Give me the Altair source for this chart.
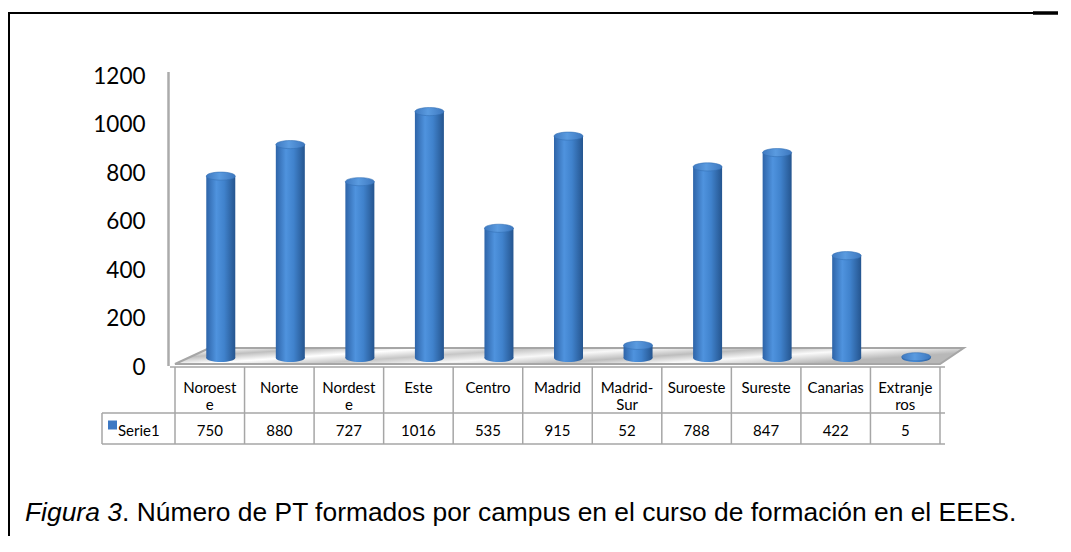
import altair as alt
import pandas as pd

# ---------------- data ----------------
categories = ["Noroeste", "Norte", "Nordeste", "Este", "Centro", "Madrid",
              "Madrid-Sur", "Suroeste", "Sureste", "Canarias", "Extranjeros"]
header_labels = ["Noroest\ne", "Norte", "Nordest\ne", "Este", "Centro", "Madrid",
                 "Madrid-\nSur", "Suroeste", "Sureste", "Canarias", "Extranje\nros"]
values = [750, 880, 727, 1016, 535, 915, 52, 788, 847, 422, 5]
y_ticks = [0, 200, 400, 600, 800, 1000, 1200]
series_name = "Serie1"
caption_italic = "Figura 3"
caption_rest = ". Número de PT formados por campus en el curso de formación en el EEES."

df = pd.DataFrame({
    "i": list(range(len(categories))),
    "cat": categories,
    "label": header_labels,
    "v": values,
    "vtxt": [str(v) for v in values],
})

# ---------------- layout ----------------
W, H = 775, 291                 # plot area
PL, PT = 162, 59                # padding left / top
TOTAL_W, TOTAL_H = 1050, 528
Y_MAX = 1200
N = len(categories)
px_per_unit = H / Y_MAX
col_w = W / N

GRID = "#A6A6A6"

x_enc = alt.X("i:Q", scale=alt.Scale(domain=[-0.5, N - 0.5], nice=False, zero=False), axis=None)
y_enc = alt.Y("v:Q", scale=alt.Scale(domain=[0, Y_MAX], nice=False, zero=False),
              axis=alt.Axis(values=y_ticks, format="d", title=None, labelFont="Lato",
                            labelFontSize=22.5, labelColor="black", ticks=False, domain=False,
                            grid=False, labelPadding=25, labelOffset=9))

body_grad = alt.Gradient(gradient="linear", x1=0, x2=1, y1=0, y2=0, stops=[
    alt.GradientStop(color="#2E64A8", offset=0),
    alt.GradientStop(color="#4F93DE", offset=0.35),
    alt.GradientStop(color="#4082CC", offset=0.62),
    alt.GradientStop(color="#25558F", offset=1),
])
top_grad = alt.Gradient(gradient="linear", x1=0, x2=1, y1=0, y2=0, stops=[
    alt.GradientStop(color="#3F79C0", offset=0),
    alt.GradientStop(color="#5A9BE0", offset=0.45),
    alt.GradientStop(color="#3D77BE", offset=1),
])
floor_grad = alt.Gradient(gradient="linear", x1=0, x2=1, y1=0, y2=0.3, stops=[
    alt.GradientStop(color="#B8B8B8", offset=0),
    alt.GradientStop(color="#F4F4F4", offset=0.07),
    alt.GradientStop(color="#BFBFBF", offset=0.17),
    alt.GradientStop(color="#FFFFFF", offset=0.3),
    alt.GradientStop(color="#C6C6C6", offset=0.43),
    alt.GradientStop(color="#F8F8F8", offset=0.56),
    alt.GradientStop(color="#BDBDBD", offset=0.7),
    alt.GradientStop(color="#FAFAFA", offset=0.83),
    alt.GradientStop(color="#B8B8B8", offset=1),
])

CYL_W = 29
CYL_DX = 11
ELLIPSE = "M-1,0A1,0.28,0,1,0,1,0A1,0.28,0,1,0,-1,0Z"

# floor (3-D base plate) derived from the category scale and depth
front_px, back_px = 6, -10          # relative to value 0 baseline
floor_df = pd.DataFrame({
    "v": [-front_px / px_per_unit, -back_px / px_per_unit],
    "i": [-0.5, -0.5 + 35 / col_w],
    "i2": [N - 0.5, N - 0.5 + 24 / col_w],
})
floor = alt.Chart(floor_df).mark_area(orient="horizontal", fill=floor_grad,
                                      stroke=GRID, strokeWidth=2).encode(
    y=y_enc, x=x_enc, x2="i2:Q")

one = pd.DataFrame({"a": [0]})

axis_line = alt.Chart(one).mark_rule(color="#ABABAB", strokeWidth=2.5).encode(
    x=alt.value(-1.5), y=alt.value(5), y2=alt.value(299))

bottom_ell = alt.Chart(df).mark_point(shape=ELLIPSE, size=CYL_W ** 2, filled=True,
                                      fill=body_grad, opacity=1, strokeWidth=0,
                                      xOffset=CYL_DX).encode(x=x_enc, y=alt.datum(0))
body = alt.Chart(df).mark_bar(size=CYL_W, fill=body_grad, xOffset=CYL_DX).encode(
    x=x_enc, y=y_enc, y2=alt.datum(0))
top_ell = alt.Chart(df).mark_point(shape=ELLIPSE, size=CYL_W ** 2, filled=True,
                                   fill=top_grad, opacity=1, stroke="#3470B5",
                                   strokeWidth=0.6, xOffset=CYL_DX).encode(x=x_enc, y=y_enc)

# ---------------- data table ----------------
T_TOP, T_MID, T_BOT = 300, 346, 377
LEG_LEFT = -68
bounds_df = pd.DataFrame({"i": [k - 0.5 for k in range(N + 1)]})
vlines = alt.Chart(bounds_df).mark_rule(color=GRID, strokeWidth=1.5).encode(
    x=x_enc, y=alt.value(T_TOP), y2=alt.value(T_BOT))
leg_vline = alt.Chart(one).mark_rule(color=GRID, strokeWidth=1.5).encode(
    x=alt.value(LEG_LEFT), y=alt.value(T_MID), y2=alt.value(T_BOT))
hline_top = alt.Chart(one).mark_rule(color=GRID, strokeWidth=1.5).encode(
    x=alt.value(0), x2=alt.value(W), y=alt.value(T_TOP))
hline_mid = alt.Chart(one).mark_rule(color=GRID, strokeWidth=1.5).encode(
    x=alt.value(LEG_LEFT), x2=alt.value(W), y=alt.value(T_MID))
hline_bot = alt.Chart(one).mark_rule(color=GRID, strokeWidth=1.5).encode(
    x=alt.value(LEG_LEFT), x2=alt.value(W), y=alt.value(T_BOT))

header_txt = alt.Chart(df).mark_text(font="Lato", fontSize=15, lineBreak="\n", lineHeight=17,
                                     baseline="alphabetic", color="black").encode(
    x=x_enc, y=alt.value(326), text="label:N")
value_txt = alt.Chart(df).mark_text(font="Lato", fontSize=15, baseline="alphabetic",
                                    color="black").encode(
    x=x_enc, y=alt.value(369), text="vtxt:N")
leg_sq = alt.Chart(one).mark_point(shape="square", size=81, filled=True, opacity=1,
                                   color="#3C78C3").encode(x=alt.value(-57.5), y=alt.value(358))
leg_txt = alt.Chart(pd.DataFrame({"s": [series_name]})).mark_text(
    font="Lato", fontSize=15, baseline="alphabetic", align="left", color="black").encode(
    x=alt.value(-52), y=alt.value(369), text="s:N")

# ---------------- caption & frame ----------------
cap1 = alt.Chart(pd.DataFrame({"s": [caption_italic]})).mark_text(
    font="Liberation Sans", fontSize=26.4, fontStyle="italic", align="left",
    baseline="alphabetic", color="black").encode(x=alt.value(-145), y=alt.value(454), text="s:N")
cap2 = alt.Chart(pd.DataFrame({"s": [caption_rest]})).mark_text(
    font="Liberation Sans", fontSize=26.4, align="left",
    baseline="alphabetic", color="black").encode(x=alt.value(-48), y=alt.value(454), text="s:N")

frame_top = alt.Chart(one).mark_rule(color="black", strokeWidth=2).encode(
    x=alt.value(-161), x2=alt.value(TOTAL_W - PL), y=alt.value(-54))
frame_top2 = alt.Chart(one).mark_rule(color="black", strokeWidth=3.5).encode(
    x=alt.value(1033 - 8 - PL), x2=alt.value(TOTAL_W - PL), y=alt.value(-54))
frame_left = alt.Chart(one).mark_rule(color="black", strokeWidth=2).encode(
    x=alt.value(-161), y=alt.value(-55), y2=alt.value(TOTAL_H - PT))

chart = alt.layer(
    frame_top, frame_top2, frame_left,
    floor, axis_line, bottom_ell, body, top_ell,
    vlines, leg_vline, hline_top, hline_mid, hline_bot,
    header_txt, value_txt, leg_sq, leg_txt, cap1, cap2,
).properties(
    width=W, height=H,
    background="white",
    autosize=alt.AutoSizeParams(type="none"),
    padding={"left": PL, "top": PT, "right": TOTAL_W - PL - W, "bottom": TOTAL_H - PT - H},
).configure_view(strokeWidth=0, stroke="transparent")

chart.save("out.html", embed_options={"renderer": "svg", "actions": False})
